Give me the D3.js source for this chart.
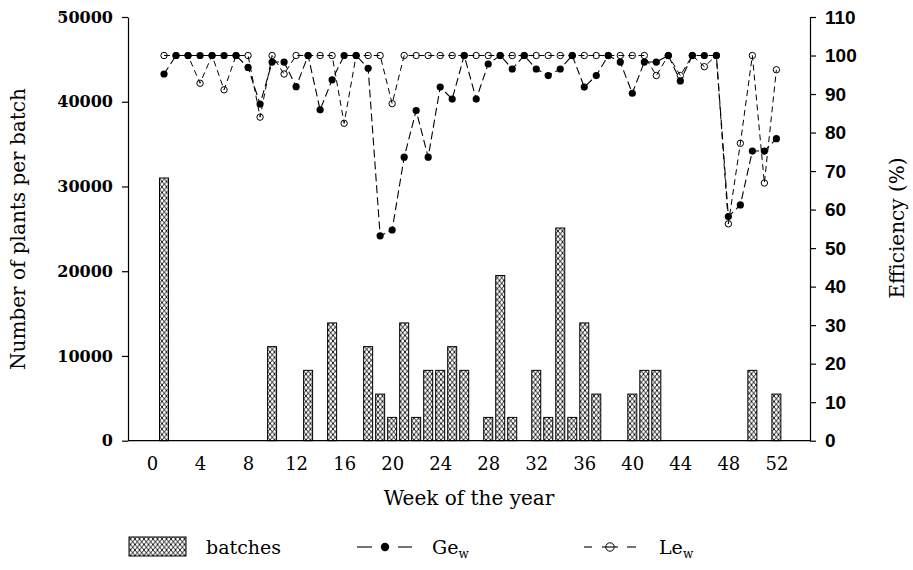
<!DOCTYPE html>
<html>
<head>
<meta charset="utf-8">
<script src="https://cdn.jsdelivr.net/npm/d3@7/dist/d3.min.js"></script>
<style>
  html, body { margin: 0; padding: 0; background: #fff; }
  svg { display: block; }
</style>
</head>
<body>
<svg id="chart" width="913" height="570"></svg>
<script>
// Weekly batches (plants per batch) and weekly efficiencies Ge_w / Le_w (%)
const batchWeeks  = [1, 10, 13, 15, 18, 19, 20, 21, 22, 23, 24, 25, 26, 28, 29, 30, 32, 33, 34, 35, 36, 37, 40, 41, 42, 50, 52];
const batchPlants = [31000, 11100, 8300, 13900, 11100, 5500, 2750, 13900, 2750, 8300, 8300, 11100, 8300, 2750, 19500, 2750, 8300, 2750, 25100, 2750, 13900, 5500, 5500, 8300, 8300, 8300, 5500];

const effWeeks = [1, 2, 3, 4, 5, 6, 7, 8, 9, 10, 11, 12, 13, 14, 15, 16, 17, 18, 19, 20, 21, 22, 23, 24, 25, 26,
                  27, 28, 29, 30, 31, 32, 33, 34, 35, 36, 37, 38, 39, 40, 41, 42, 43, 44, 45, 46, 47, 48, 49, 50, 51, 52];
const geW = [95.2, 100, 100, 100, 100, 100, 100, 96.9, 87.4, 98.3, 98.3, 91.9, 100, 85.9, 93.7, 100, 100, 96.7, 53.2, 54.7, 73.6, 85.7, 73.6, 91.8, 88.7, 100,
             88.7, 97.8, 100, 96.5, 100, 96.5, 94.8, 96.5, 100, 91.8, 94.8, 100, 98.3, 90.2, 98.3, 98.3, 100, 93.4, 100, 100, 100, 58.2, 61.2, 75.2, 75.2, 78.4];
const leW = [100, 100, 100, 92.8, 100, 91.1, 100, 100, 84.0, 100, 95.2, 100, 100, 100, 100, 82.4, 100, 100, 100, 87.5, 100, 100, 100, 100, 100, 100,
             100, 100, 100, 100, 100, 100, 100, 100, 100, 100, 100, 100, 100, 100, 100, 94.8, 100, 94.8, 100, 97.1, 100, 56.3, 77.2, 100, 66.9, 96.3];

const weekTicks  = [0, 4, 8, 12, 16, 20, 24, 28, 32, 36, 40, 44, 48, 52];
const plantTicks = [0, 10000, 20000, 30000, 40000, 50000];
const effTicks   = [0, 10, 20, 30, 40, 50, 60, 70, 80, 90, 100, 110];

const serif = "'DejaVu Serif', serif";
const svg = d3.select("#chart");

const plot = { left: 128, right: 810, top: 17, bottom: 440.7 };

const x = d3.scaleLinear().domain([-2, 54.8]).range([plot.left, plot.right]);
const yPlants = d3.scaleLinear().domain([0, 50000]).range([plot.bottom, plot.top]);
const yEff = d3.scaleLinear().domain([0, 110]).range([plot.bottom, plot.top]);

// cross-hatch fill for the batch bars
const defs = svg.append("defs");
const pw = 4.5, ph = 5.5;
const pat = defs.append("pattern")
  .attr("id", "xhatch")
  .attr("patternUnits", "userSpaceOnUse")
  .attr("width", pw).attr("height", ph);
pat.append("rect").attr("width", pw).attr("height", ph).attr("fill", "#fff");
pat.append("path")
  .attr("d", `M0,0L${pw},${ph}M${pw},0L0,${ph}`)
  .attr("stroke", "#000").attr("stroke-width", 0.9).attr("fill", "none");

// bars
const barW = 9;
svg.append("g").selectAll("rect")
  .data(batchWeeks.map((w, i) => ({ w, v: batchPlants[i] })))
  .join("rect")
  .attr("x", d => x(d.w) - barW / 2)
  .attr("y", d => yPlants(d.v))
  .attr("width", barW)
  .attr("height", d => yPlants(0) - yPlants(d.v))
  .attr("fill", "url(#xhatch)")
  .attr("stroke", "#000")
  .attr("stroke-width", 1);

// baseline
svg.append("line")
  .attr("x1", plot.left).attr("x2", plot.right)
  .attr("y1", plot.bottom).attr("y2", plot.bottom)
  .attr("stroke", "#000").attr("stroke-width", 1.2);

// left axis
const gLeft = svg.append("g")
  .attr("transform", `translate(${plot.left},0)`)
  .call(d3.axisLeft(yPlants).tickValues(plantTicks).tickFormat(d3.format("d")).tickSize(6).tickSizeOuter(0).tickPadding(9));
gLeft.selectAll("text")
  .attr("font-family", serif).attr("font-weight", "bold").attr("font-size", 16).attr("fill", "#000");

// right axis
const gRight = svg.append("g")
  .attr("transform", `translate(${plot.right},0)`)
  .call(d3.axisRight(yEff).tickValues(effTicks).tickSize(6).tickSizeOuter(0).tickPadding(9));
gRight.selectAll("text")
  .attr("font-family", "'Liberation Sans', Arial, sans-serif").attr("font-weight", "bold").attr("font-size", 19).attr("fill", "#000");

// bottom week labels
const gBottom = svg.append("g")
  .attr("transform", `translate(0,${plot.bottom})`)
  .call(d3.axisBottom(x).tickValues(weekTicks).tickSize(0).tickPadding(17));
gBottom.select(".domain").remove();
gBottom.selectAll("text")
  .attr("font-family", serif).attr("font-size", 18).attr("fill", "#000");

[gLeft, gRight].forEach(g => {
  g.selectAll("path, line").attr("stroke", "#000").attr("stroke-width", 1.2);
});

// axis titles
svg.append("text")
  .attr("transform", `translate(25,229) rotate(-90)`)
  .attr("text-anchor", "middle")
  .attr("font-family", serif).attr("font-size", 20).attr("fill", "#000")
  .text("Number of plants per batch");

svg.append("text")
  .attr("transform", `translate(904,228) rotate(-90)`)
  .attr("text-anchor", "middle")
  .attr("font-family", serif).attr("font-size", 20).attr("fill", "#000")
  .text("Efficiency (%)");

svg.append("text")
  .attr("x", (plot.left + plot.right) / 2).attr("y", 505)
  .attr("text-anchor", "middle")
  .attr("font-family", serif).attr("font-size", 20).attr("fill", "#000")
  .text("Week of the year");

// efficiency lines
const leData = effWeeks.map((w, i) => ({ w, v: leW[i] }));
const geData = effWeeks.map((w, i) => ({ w, v: geW[i] }));
const line = d3.line().x(d => x(d.w)).y(d => yEff(d.v));

svg.append("path")
  .datum(leData)
  .attr("d", line)
  .attr("fill", "none").attr("stroke", "#000").attr("stroke-width", 1)
  .attr("stroke-dasharray", "6,4");

svg.append("g").selectAll("circle")
  .data(leData)
  .join("circle")
  .attr("cx", d => x(d.w)).attr("cy", d => yEff(d.v))
  .attr("r", 3.2)
  .attr("fill", "none").attr("stroke", "#000").attr("stroke-width", 1);

svg.append("path")
  .datum(geData)
  .attr("d", line)
  .attr("fill", "none").attr("stroke", "#000").attr("stroke-width", 1.1)
  .attr("stroke-dasharray", "8,4");

svg.append("g").selectAll("circle")
  .data(geData)
  .join("circle")
  .attr("cx", d => x(d.w)).attr("cy", d => yEff(d.v))
  .attr("r", 3.6)
  .attr("fill", "#000");

// legend
const legY = 547;
const leg = svg.append("g");
leg.append("rect")
  .attr("x", 129).attr("y", legY - 10).attr("width", 57).attr("height", 19)
  .attr("fill", "url(#xhatch)").attr("stroke", "#000").attr("stroke-width", 1);
leg.append("text")
  .attr("x", 206).attr("y", legY + 7)
  .attr("font-family", serif).attr("font-size", 19).attr("fill", "#000")
  .text("batches");

const segs = (g, pairs) => pairs.forEach(([a, b]) =>
  g.append("line").attr("x1", a).attr("x2", b).attr("y1", legY).attr("y2", legY)
    .attr("stroke", "#000").attr("stroke-width", 1.1));

segs(leg, [[357, 372], [398, 412]]);
leg.append("circle").attr("cx", 385).attr("cy", legY).attr("r", 4.2).attr("fill", "#000");

segs(leg, [[584, 592], [602, 618], [627, 636]]);
leg.append("circle").attr("cx", 610).attr("cy", legY).attr("r", 4.2)
  .attr("fill", "none").attr("stroke", "#000").attr("stroke-width", 1);

[["Ge", 432], ["Le", 659]].forEach(([name, lx]) => {
  const t = leg.append("text")
    .attr("x", lx).attr("y", legY + 7)
    .attr("font-family", serif).attr("font-size", 19).attr("fill", "#000");
  t.append("tspan").text(name);
  t.append("tspan").attr("dy", 4).attr("font-size", 12).text("w");
});
</script>
</body>
</html>
